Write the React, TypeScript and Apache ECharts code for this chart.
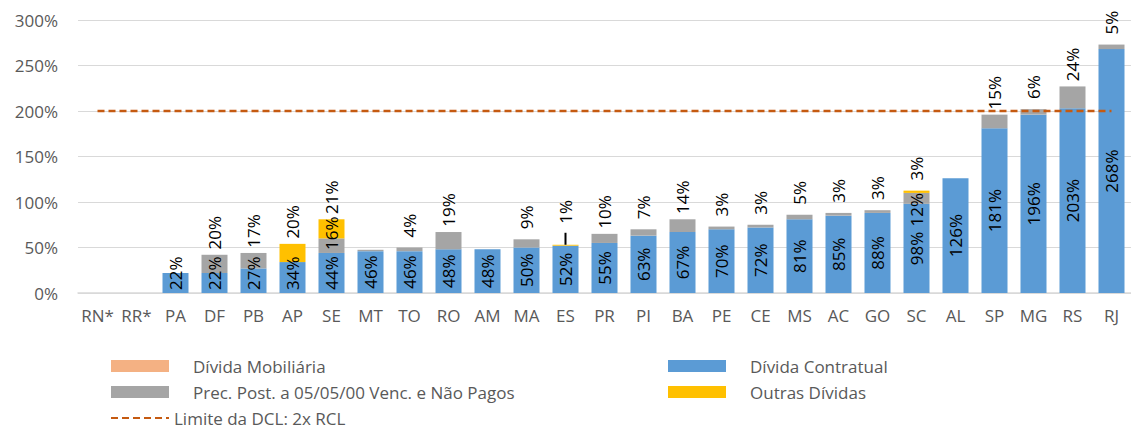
import React, { useEffect, useRef } from "react";
import * as echarts from "echarts";

const categories = ["RN*", "RR*", "PA", "DF", "PB", "AP", "SE", "MT", "TO", "RO", "AM", "MA", "ES", "PR", "PI", "BA", "PE", "CE", "MS", "AC", "GO", "SC", "AL", "SP", "MG", "RS", "RJ"];
const dividaMobiliaria = [0, 0, 0, 0, 0, 0, 0, 0, 0, 0, 0, 0, 0, 0, 0, 0, 0, 0, 0, 0, 0, 0, 0, 0, 0, 0, 0];
const dividaContratual = [0, 0, 22, 22, 27, 34, 44, 46, 46, 48, 48, 50, 52, 55, 63, 67, 70, 72, 81, 85, 88, 98, 126, 181, 196, 203, 268];
const precatorios = [0, 0, 0, 20, 17, 0, 16, 1.5, 4, 19, 0, 9, 0, 10, 7, 14, 3, 3, 5, 3, 3, 12, 0, 15, 6, 24, 5];
const outrasDividas = [0, 0, 0, 0, 0, 20, 21, 0, 0, 0, 0, 0, 1, 0, 0, 0, 0, 0, 0, 0, 0, 2.5, 0, 0, 0, 0, 0];
const limiteDCL = [200, 200, 200, 200, 200, 200, 200, 200, 200, 200, 200, 200, 200, 200, 200, 200, 200, 200, 200, 200, 200, 200, 200, 200, 200, 200, 200];
const yTicks = { min: 0, max: 300, interval: 50 };

const NAME_MOB = "Dívida Mobiliária";
const NAME_CON = "Dívida Contratual";
const NAME_PRE = "Prec. Post. a 05/05/00 Venc. e Não Pagos";
const NAME_OUT = "Outras Dívidas";
const NAME_LIM = "Limite da DCL: 2x RCL";

const FONT = "'Open Sans', sans-serif";
const fmt = (p: any) => Math.round(p.value) + "%";

const baseLabel = {
  show: true,
  rotate: 90,
  fontSize: 17,
  fontFamily: FONT,
  color: "#000",
  formatter: fmt,
};

const topLabel = { position: "top", distance: 22, align: "center", verticalAlign: "middle" };
const bottomUpLabel = { position: "insideBottom", distance: 3, align: "left", verticalAlign: "middle" };
const topDownLabel = { position: "insideTop", distance: 0, align: "right", verticalAlign: "middle" };

export default function App() {
  const ref = useRef<HTMLDivElement>(null);
  useEffect(() => {
    if (!ref.current) return;
    const chart = echarts.init(ref.current, null, { renderer: "svg" });
    const esIdx = categories.indexOf("ES");

    const conData = dividaContratual.map((v) => {
      if (v <= 0) return { value: v, label: { show: false } };
      if (v < 36) return { value: v, label: bottomUpLabel };
      return { value: v, label: { position: "inside" } };
    });
    const preData = precatorios.map((v, i) => {
      if (v < 2) return { value: v, label: { show: false } };
      if (outrasDividas[i] > 0) {
        if (v >= 15) return { value: v, label: bottomUpLabel };
        return { value: v, label: topDownLabel };
      }
      return { value: v, label: topLabel };
    });
    const outData = outrasDividas.map((v, i) => {
      if (v <= 0) return { value: v, label: { show: false } };
      if (i === esIdx)
        return {
          value: v,
          label: {
            position: "top",
            distance: 0,
            align: "left",
            verticalAlign: "middle",
            formatter: (p: any) => "{l|}{s|}{t|" + Math.round(p.value) + "%}",
            rich: {
              l: { width: 12, height: 2, backgroundColor: "#000", verticalAlign: "middle" },
              s: { width: 9, height: 2 },
              t: { fontSize: 17, fontFamily: FONT, color: "#000" },
            },
          },
        };
      return { value: v, label: topLabel };
    });

    const legendCommon = {
      orient: "vertical",
      top: 357,
      height: 80,
      padding: 0,
      itemWidth: 58,
      itemHeight: 12,
      itemGap: 8,
      selectedMode: false,
      textStyle: { fontSize: 17, fontFamily: FONT, color: "#595959", lineHeight: 18 },
    };

    chart.setOption({
      animation: false,
      grid: { left: 78, width: 1060, top: 20, bottom: 135, containLabel: false },
      xAxis: {
        type: "category",
        data: categories,
        axisTick: { show: false },
        axisLine: { lineStyle: { color: "#D9D9D9", width: 1.5 } },
        axisLabel: { interval: 0, color: "#595959", fontSize: 17, fontFamily: FONT, margin: 14 },
      },
      yAxis: {
        type: "value",
        min: yTicks.min,
        max: yTicks.max,
        interval: yTicks.interval,
        axisLabel: { formatter: "{value}%", color: "#595959", fontSize: 17, fontFamily: FONT, margin: 20 },
        splitLine: { lineStyle: { color: "#D9D9D9", width: 1.2 } },
        axisLine: { show: false },
        axisTick: { show: false },
      },
      legend: [
        {
          ...legendCommon,
          left: 110,
          data: [
            { name: NAME_MOB, icon: "rect", textStyle: { padding: [0, 0, 0, 19] } },
            { name: NAME_PRE, icon: "rect", textStyle: { padding: [0, 0, 0, 19] } },
            { name: NAME_LIM, itemStyle: { opacity: 0 } },
          ],
        },
        {
          ...legendCommon,
          left: 668,
          textStyle: { ...legendCommon.textStyle, padding: [0, 0, 0, 19] },
          data: [
            { name: NAME_CON, icon: "rect" },
            { name: NAME_OUT, icon: "rect" },
          ],
        },
      ],
      series: [
        {
          name: NAME_CON,
          type: "bar",
          stack: "total",
          barWidth: 26,
          itemStyle: { color: "#5B9BD5" },
          label: baseLabel,
          data: conData,
        },
        {
          name: NAME_PRE,
          type: "bar",
          stack: "total",
          barWidth: 26,
          itemStyle: { color: "#A5A5A5" },
          label: baseLabel,
          data: preData,
        },
        {
          name: NAME_OUT,
          type: "bar",
          stack: "total",
          barWidth: 26,
          itemStyle: { color: "#FFC000" },
          label: baseLabel,
          data: outData,
        },
        {
          name: NAME_MOB,
          type: "bar",
          stack: "total",
          barWidth: 26,
          itemStyle: { color: "#F4B183" },
          label: { show: false },
          data: dividaMobiliaria,
        },
        {
          name: NAME_LIM,
          type: "line",
          symbol: "none",
          z: 5,
          lineStyle: { color: "#C55A11", width: 2.5, type: [7, 4] },
          itemStyle: { color: "#C55A11" },
          data: limiteDCL,
        },
      ],
    });
    return () => chart.dispose();
  }, []);
  return (
    <div style={{ position: "absolute", left: 0, top: 0, width: 1131, height: 428, background: "#fff" }}>
      <div ref={ref} style={{ width: 1131, height: 428 }} />
    </div>
  );
}
